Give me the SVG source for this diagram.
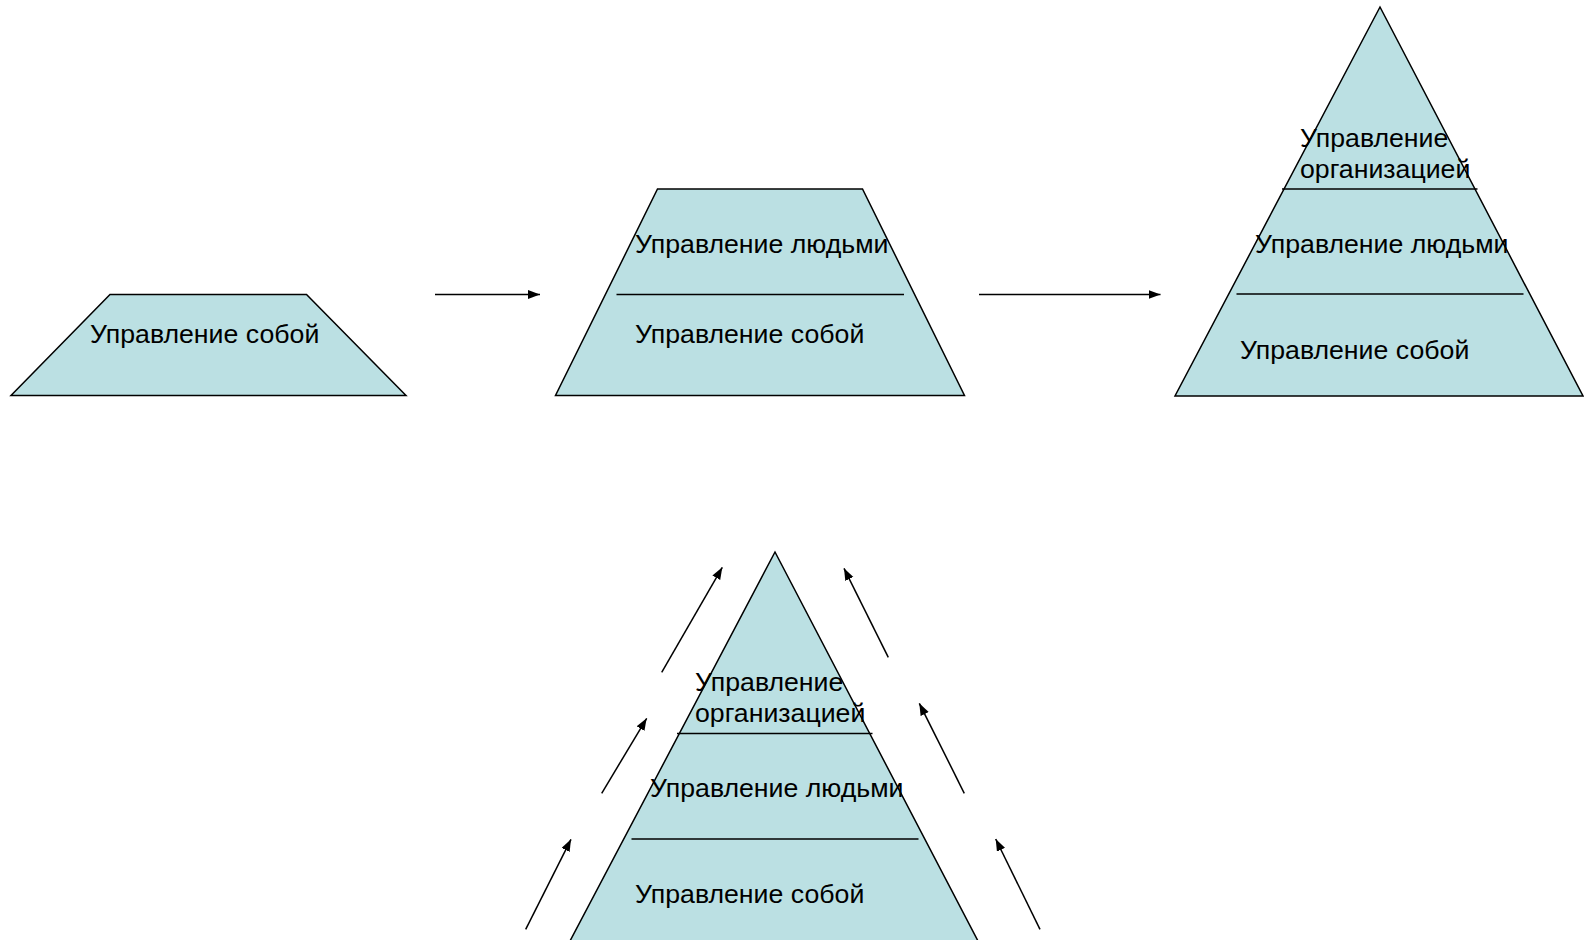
<svg xmlns="http://www.w3.org/2000/svg" width="1584" height="940" viewBox="0 0 1584 940">
<style>
.shape{fill:#BBE0E3;stroke:#000;stroke-width:1.5;stroke-linejoin:miter}
.div{stroke:#000;stroke-width:1.5;fill:none}
.arr{stroke:#000;stroke-width:1.5;fill:none;marker-end:url(#ah)}
text{font-family:"Liberation Sans",Arial,sans-serif;font-size:26.7px;fill:#000}
</style>
<defs>
<marker id="ah" markerUnits="userSpaceOnUse" markerWidth="14" markerHeight="10" refX="12" refY="4.5" orient="auto">
<path d="M0,0 L12,4.5 L0,9 Z" fill="#000"/>
</marker>
</defs>
<rect width="1584" height="940" fill="#fff"/>
<g id="node-trap1">
<polygon class="shape" points="110,294.5 306.5,294.5 406,395.5 11,395.5"/>
<text x="90" y="343">Управление собой</text>
</g>
<g id="node-trap2">
<polygon class="shape" points="657.5,189 862.5,189 964.5,395.5 555.5,395.5"/>
<line class="div" x1="616.5" y1="294.5" x2="904" y2="294.5"/>
<text x="635" y="253">Управление людьми</text>
<text x="635" y="343">Управление собой</text>
</g>
<g id="node-pyramid1">
<polygon class="shape" points="1380,7 1583,396 1175,396"/>
<line class="div" x1="1282" y1="189" x2="1477.5" y2="189"/>
<line class="div" x1="1236.5" y1="294" x2="1523.5" y2="294"/>
<text x="1300" y="146.5">Управление</text>
<text x="1300" y="177.5">организацией</text>
<text x="1255" y="252.5">Управление людьми</text>
<text x="1240" y="358.5">Управление собой</text>
</g>
<g id="node-pyramid2">
<polygon class="shape" points="775,552 978,941 570,941"/>
<line class="div" x1="677" y1="733.5" x2="872.5" y2="733.5"/>
<line class="div" x1="631.5" y1="839" x2="918.5" y2="839"/>
<text x="695" y="690.5">Управление</text>
<text x="695" y="721.5">организацией</text>
<text x="650" y="796.5">Управление людьми</text>
<text x="635" y="902.5">Управление собой</text>
</g>
<g id="connectors">
<line class="arr" x1="435" y1="294.5" x2="540" y2="294.5"/>
<line class="arr" x1="979" y1="294.5" x2="1160.5" y2="294.5"/>
<line class="arr" x1="661.7" y1="672.3" x2="722.3" y2="567.3"/>
<line class="arr" x1="601.7" y1="793.3" x2="646.7" y2="718.3"/>
<line class="arr" x1="525.7" y1="929.3" x2="571" y2="839.3"/>
<line class="arr" x1="888.3" y1="657.3" x2="844" y2="568.3"/>
<line class="arr" x1="964.3" y1="793.3" x2="919.3" y2="703.3"/>
<line class="arr" x1="1040" y1="929.3" x2="995.7" y2="839"/>
</g>
</svg>
